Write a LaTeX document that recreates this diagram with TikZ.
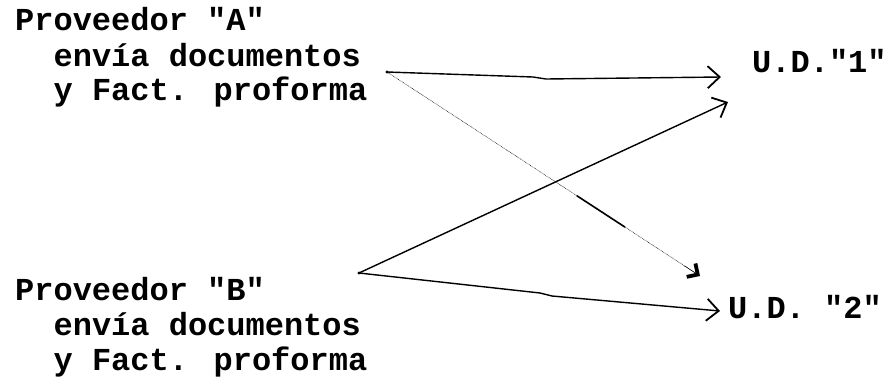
\documentclass[tikz,border=0pt]{standalone}
\usepackage{fontspec}
\newfontfamily\twfont{Liberation Mono}
\usetikzlibrary{arrows.meta,calc}
\begin{document}
\begin{tikzpicture}[x=1pt,y=-1pt,
  lbl/.style={anchor=base west, inner sep=0pt, font=\twfont\bfseries\fontsize{32}{35}\selectfont},
  ln/.style={line width=1.4pt, line join=round, line cap=round},
  tipo/.style={-{Straight Barb[length=12pt,width=22pt,line width=1.8pt]}},
  fine/.style={line width=0.5pt, densely dotted, line cap=round},
  tipheavy/.style={-{Straight Barb[length=8pt,width=16pt,line width=3.8pt]}}
]
\fill[white] (0,0) rectangle (896,383);
\useasboundingbox (0,0) rectangle (896,383);
% Proveedor A
\node[lbl] (a1) at (15,30) {Proveedor "A"};
\node[lbl] (a2) at (53.4,66) {envía documentos};
\node[lbl] (a3) at (53.4,100) {y Fact. proforma};
% Proveedor B
\node[lbl] (b1) at (15,300) {Proveedor "B"};
\node[lbl] (b2) at (53.4,335) {envía documentos};
\node[lbl] (b3) at (53.4,370) {y Fact. proforma};
% Destinations
\node[lbl] (ud1) at (752,72) {U.D."1"};
\node[lbl] (ud2) at (728,318) {U.D. "2"};
% connector points
\coordinate (pa) at (387,72);
\coordinate (pb) at (359,273);
\coordinate (e1a) at (721,77);
\coordinate (e1b) at (728,102);
\coordinate (e2a) at (700,276);
\coordinate (e2b) at (720,311);
\fill (pa) circle (1.6pt);
\fill (pb) circle (1.6pt);
% A -> 1
\draw[ln,tipo] (pa) -- (533,77) -- (546,79) -- (e1a);
% A -> 2 (fine dotted with a solid stretch)
\draw[fine] (pa) -- (e2a);
\draw[ln, line width=1.6pt] ($(pa)!0.607!(e2a)$) -- ($(pa)!0.76!(e2a)$);
\draw[line width=0.5pt, tipheavy] ($(pa)!0.95!(e2a)$) -- (e2a);
% B -> 1
\draw[ln,tipo] (pb) -- (e1b);
% B -> 2
\draw[ln,tipo] (pb) -- (540,293) -- (552,296) -- (e2b);
\end{tikzpicture}
\end{document}
